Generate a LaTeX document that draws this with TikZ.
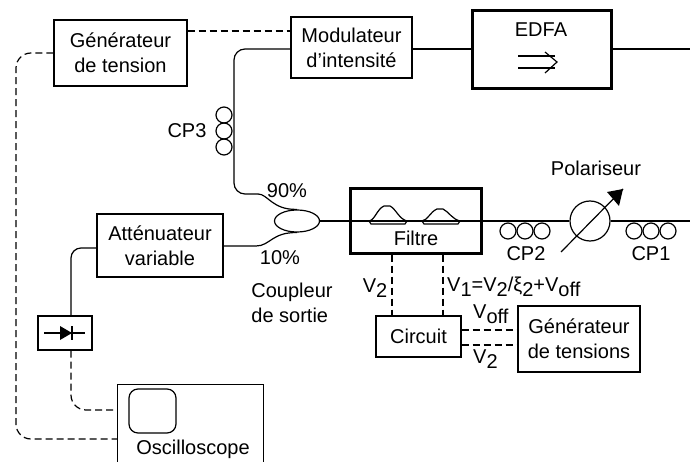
\documentclass[tikz,border=0pt]{standalone}
\usepackage{fontspec}
\setmainfont{Liberation Sans}
\usetikzlibrary{shapes.geometric,arrows.meta}

\tikzset{
  fibre/.style={line width=1.2pt},
  elec/.style={line width=1.2pt,dash pattern=on 7pt off 4pt},
  bloc/.style={draw,line width=1.2pt,align=center,inner sep=0pt},
  blocfort/.style={draw,line width=3pt,inner sep=0pt},
  boucle/.style={draw,line width=1.2pt,circle,minimum size=16pt,inner sep=0pt},
}
\newcommand{\ind}[1]{\raisebox{-5pt}{#1}}

\begin{document}
\begin{tikzpicture}[x=1pt,y=-1pt,font=\fontsize{20}{25}\selectfont]
  \useasboundingbox (0,0) rectangle (690,462);

  \node[bloc,minimum width=133pt,minimum height=66pt] (gentension) at (120.5,53) {Générateur\\de tension};
  \node[bloc,minimum width=121pt,minimum height=61pt] (modulateur) at (351.5,47.5) {Modulateur\\d'intensité};
  \node[blocfort,minimum width=139pt,minimum height=78pt] (edfa) at (541.5,50) {};
  \node (edfatxt) at (541,30) {EDFA};
  \node[bloc,minimum width=126pt,minimum height=63pt] (attenuateur) at (160,245.5) {Atténuateur\\variable};
  \node[blocfort,minimum width=131pt,minimum height=64pt] (filtre) at (415.5,221) {};
  \node (filtretxt) at (416,238) {Filtre};
  \node[bloc,minimum width=85pt,minimum height=41pt] (circuit) at (418.5,336.5) {Circuit};
  \node[bloc,minimum width=122pt,minimum height=66pt] (gentensions) at (579,339) {Générateur\\de tensions};
  \node[bloc,minimum width=54pt,minimum height=34pt] (diode) at (65,333) {};
  \node[minimum width=145pt,minimum height=80pt,inner sep=0pt] (oscillo) at (190.5,425) {};
  \node[draw,line width=1.2pt,rounded corners=9pt,minimum width=47pt,minimum height=44pt,inner sep=0pt] (ecran) at (152.5,411) {};
  \node (oscillotxt) at (193,449) {Oscilloscope};
  \node[draw,ellipse,line width=1.2pt,minimum width=45pt,minimum height=22pt,inner sep=0pt] (coupleur) at (297,221) {};
  \node[draw,circle,line width=1.2pt,minimum size=40pt,inner sep=0pt] (polariseur) at (590,221) {};

  \coordinate (sortiehaut) at (690,49);
  \coordinate (sortiebas) at (690,221);
  \coordinate (polarbas) at (561,252);
  \coordinate (polarhaut) at (623,189);

  % fibres
  \draw[fibre] (modulateur.east |- 0,49) -- (edfa.west |- 0,49);
  \draw[fibre] (edfa.east |- 0,49) -- (sortiehaut);
  \draw[fibre] (coupleur.east) -- (polariseur.west);
  \draw[fibre] (polariseur.east) -- (sortiebas);
  \draw[fibre,rounded corners=11pt] (modulateur.west |- 0,49) -- (234,49) -- (234,194) -- (258,194);
  \draw[fibre] (258,194) .. controls (268,194) and (272,210) .. (coupleur.north);
  \draw[fibre,rounded corners=10pt] (attenuateur.west |- 0,248) -- (71,248) -- (diode.north -| 71,0);
  \draw[fibre] (attenuateur.east |- 0,246) -- (256,246) .. controls (270,246) and (272,232) .. (coupleur.south);

  % pilotage
  \draw[elec] (gentension.east |- 0,31) -- (modulateur.west |- 0,31);
  \draw[elec,rounded corners=15pt] (gentension.west) -- (16,53) -- (16,439) -- (oscillo.west |- 0,439);
  \draw[elec,rounded corners=15pt] (diode.south -| 71,0) -- (71,410) -- (oscillo.west |- 0,410);
  \draw[elec] (filtre.south -| 392,0) -- (circuit.north -| 392,0);
  \draw[elec] (filtre.south -| 443,0) -- (circuit.north -| 443,0);
  \draw[elec] (circuit.east |- 0,330) -- (gentensions.west |- 0,330);
  \draw[elec] (circuit.east |- 0,345) -- (gentensions.west |- 0,345);

  % oscilloscope, sans bord bas
  \draw[line width=1.2pt] (oscillo.south west) |- (oscillo.north east) -- (oscillo.south east);

  % polariseur
  \draw[line width=1.2pt] (polarbas) -- (polarhaut);
  \fill (623,189) -- (607,192) -- (619,206) -- cycle;

  % controleurs de polarisation
  \foreach \y/\nom in {115/a,131/b,147/c}
    \node[boucle] (cpt\nom) at (224,\y) {};
  \foreach \x/\nom in {508/a,525/b,542/c}
    \node[boucle] (cpd\nom) at (\x,231) {};
  \foreach \x/\nom in {634/a,651/b,668/c}
    \node[boucle] (cpu\nom) at (\x,231) {};

  % profils du filtre
  \foreach \x/\h in {369/206,422/209}{
    \draw[line width=1.2pt] (\x,221) .. controls (\x+6,220) and (\x+8,\h+3) .. (\x+15,\h)
      -- (\x+21,\h) .. controls (\x+27,\h+3) and (\x+30,219) .. (\x+38,221) -- (\x+36,224) -- (\x+2,224) -- cycle;
  }

  % fleche EDFA
  \draw[line width=1.2pt] (518,56) -- (555,56);
  \draw[line width=1.2pt] (518,68) -- (555,68);
  \draw[line width=1.2pt] (545,52) -- (557,62) -- (545,73);

  % diode
  \draw[line width=1.2pt] (44,333) -- (85,333);
  \fill (60,326) -- (72,333) -- (60,340) -- cycle;
  \draw[line width=2pt] (72,326) -- (72,340);

  \node (labelcpt) at (187,131) {CP3};
  \node (labelcpd) at (526,254) {CP2};
  \node (labelcpu) at (651,254) {CP1};
  \node (labelpolar) at (596,168) {Polariseur};
  \node (labelhaut) at (287,191) {90\%};
  \node (labelbas) at (280,258) {10\%};
  \node[align=left] (labelcoupleur) at (292,303) {Coupleur\\de sortie};
  \node (labelvd) at (375,288) {V\ind{2}};
  \node[anchor=west,inner sep=0pt] (labelvu) at (447,287) {V\ind{1}=V\ind{2}/ξ\ind{2}+V\ind{off}};
  \node[anchor=west,inner sep=0pt] (labelvoff) at (473,314) {V\ind{off}};
  \node[anchor=west,inner sep=0pt] (labelvdeux) at (473,359) {V\ind{2}};
\end{tikzpicture}
\end{document}
